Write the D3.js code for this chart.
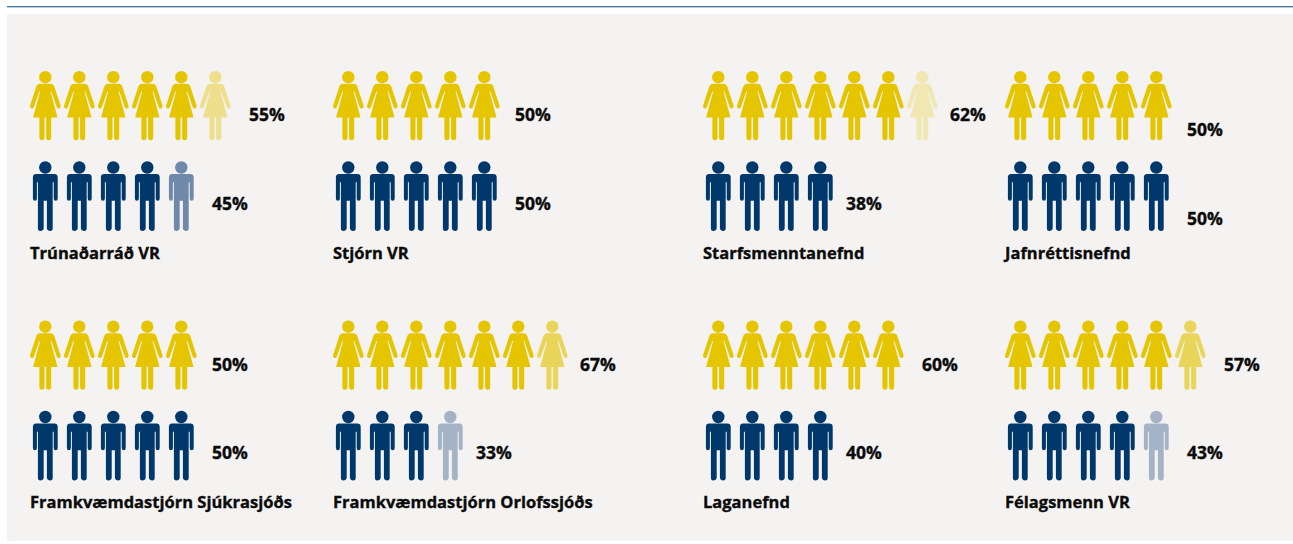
<!DOCTYPE html>
<html><head><meta charset="utf-8">
<script src="https://cdnjs.cloudflare.com/ajax/libs/d3/7.8.5/d3.min.js"></script>
<style>html,body{margin:0;padding:0;background:#fff}svg{display:block}text{font-family:"Open Sans",sans-serif;font-weight:700;fill:#0b0b0b;stroke:#0b0b0b;stroke-width:.35px}</style>
</head><body><svg id="c" width="1293" height="544"></svg>
<script>
const names=["Trúnaðarráð VR","Stjórn VR","Starfsmenntanefnd","Jafnréttisnefnd","Framkvæmdastjórn Sjúkrasjóðs","Framkvæmdastjórn Orlofssjóðs","Laganefnd","Félagsmenn VR"];
const womenPct=[55,50,62,50,50,67,60,57];
const menPct=[45,50,38,50,50,33,40,43];
// Icon fills: 1 = solid, fractions = faded last icon
const womenIcons=[[1,1,1,1,1,.42],[1,1,1,1,1],[1,1,1,1,1,1,.25],[1,1,1,1,1],[1,1,1,1,1],[1,1,1,1,1,1,.62],[1,1,1,1,1,1],[1,1,1,1,1,.62]];
const menIcons=[[1,1,1,1,.54],[1,1,1,1,1],[1,1,1,1],[1,1,1,1,1],[1,1,1,1,1],[1,1,1,.32],[1,1,1,1],[1,1,1,1,.32]];

const W=1293,H=544,svg=d3.select("#c");
const gold="#e5c400",navy="#00386b",navyFade="#00306f";
svg.append("rect").attr("x",7).attr("y",6).attr("width",W-7).attr("height",1.4).attr("fill","#4b7ba6");
svg.append("rect").attr("x",7).attr("y",14).attr("width",W-7).attr("height",527).attr("fill","#f4f3f1");

const womanPath="M-5,12.8L5,12.8Q8,12.8 9,15.6L15.2,34.6Q15.8,36.8 14,37.4Q12.2,37.9 11.5,36.2L6,20.5L5.2,20.5L12.2,46.5L5.9,46.5L5.9,66.6Q5.9,69.2 3.4,69.2Q.8,69.2 .8,66.6L.8,46.5L-.8,46.5L-.8,66.6Q-.8,69.2 -3.4,69.2Q-5.9,69.2 -5.9,66.6L-5.9,46.5L-12.2,46.5L-5.2,20.5L-6,20.5L-11.5,36.2Q-12.2,37.9 -14,37.4Q-15.8,36.8 -15.2,34.6L-9,15.6Q-8,12.8 -5,12.8Z";
const manPath="M-9,12.2L9,12.2Q12.4,12.2 12.4,15.6L12.4,36.8Q12.4,39 10.4,39Q8.4,39 8.4,36.8L8.4,20.5L7.4,20.5L7.4,66.6Q7.4,69.2 5,69.2Q2.1,69.2 1.6,66.6L1.6,39L-1.6,39L-1.6,66.6Q-2.1,69.2 -5,69.2Q-7.4,69.2 -7.4,66.6L-7.4,20.5L-8.4,20.5L-8.4,36.8Q-8.4,39 -10.4,39Q-12.4,39 -12.4,36.8L-12.4,15.6Q-12.4,12.2 -9,12.2Z";

const colX=d3.scaleOrdinal().domain([0,1,2,3]).range([30,333,703,1005]);
const rowY=d3.scaleOrdinal().domain([0,1]).range([71,320.5]);
const iconX=d3.scaleLinear().domain([0,1]).range([15.3,49.3]);
const labelOffset=d3.scaleOrdinal().domain([4,5,6,7]).range([143,182,219,247]);

function row(g,icons,pct,top,path,color,fade,headY,labelY){
  const gr=g.append("g").attr("transform",`translate(0,${top})`);
  const ic=gr.selectAll("g").data(icons).join("g")
    .attr("transform",(d,i)=>`translate(${iconX(i)},0)`).attr("fill",d=>d<1?fade:color).attr("opacity",d=>d);
  ic.append("circle").attr("cy",headY).attr("r",6.2);
  ic.append("path").attr("d",path);
  gr.append("text").attr("x",labelOffset(icons.length)).attr("y",labelY).attr("font-size",17.5).text(pct+"%");
}
names.forEach((n,i)=>{
  const g=svg.append("g").attr("transform",`translate(${colX(i%4)},${rowY(Math.floor(i/4))})`);
  const dy=n==="Jafnréttisnefnd"?15:0;
  row(g,womenIcons[i],womenPct[i],0,womanPath,gold,gold,6.2,50+dy);
  row(g,menIcons[i],menPct[i],90.7,manPath,navy,navyFade,5.8,48+dy);
  g.append("text").attr("y",187.5).attr("font-size",16.5).text(n);
});
</script></body></html>
